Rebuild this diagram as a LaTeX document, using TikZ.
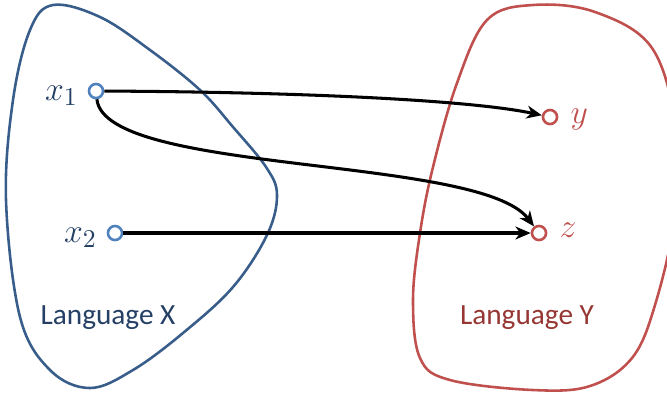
\documentclass[tikz,border=0pt]{standalone}
\usepackage{fontspec}
\setmainfont{Carlito}
\usepackage{tikz}
\usetikzlibrary{arrows.meta,positioning}

\definecolor{langblue}{RGB}{56,93,138}
\definecolor{dotblue}{RGB}{79,129,189}
\definecolor{textblue}{RGB}{37,64,100}
\definecolor{langred}{RGB}{192,80,77}
\definecolor{textred}{RGB}{150,55,52}

\tikzset{
  dot/.style={circle,draw,line width=1.1pt,minimum size=6pt,inner sep=0pt},
  lbl/.style={font=\fontsize{15}{18}\selectfont,inner sep=1pt},
  lang/.style={font=\fontsize{12.5}{15}\selectfont},
}

\begin{document}
\begin{tikzpicture}[x=0.015cm,y=-0.015cm,>={Stealth[length=6.5pt,width=5.5pt,inset=2pt]}]
\useasboundingbox (0,0) rectangle (667,393);
\clip (0,0) rectangle (667,393);
% the two languages
\draw [langblue,line width=1.1pt] plot[smooth cycle,tension=0.6] coordinates
  {(53,5) (100,17) (150,50) (200,90) (233,127) (266,167) (277,195) (267,235)
   (233,287) (183,333) (133,370) (90,388) (50,370) (20,317) (6,200) (13,100) (30,30)};
\draw [langred,line width=1.1pt] plot[smooth cycle,tension=0.6] coordinates
  {(533,5) (595,12) (652,48) (676,130) (674,220) (655,305) (632,358) (590,386)
   (533,390) (450,380) (420,358) (413,300) (420,233) (433,167) (457,83) (487,20)};
\node[lang,textblue] (langX) at (108,318) {Language X};
\node[lang,textred] (langY) at (527,318) {Language Y};
% points
\node[dot,dotblue] (x1) at (96,91) {};
\node[dot,dotblue] (x2) at (115,233) {};
\node[dot,langred] (y) at (550,117) {};
\node[dot,langred] (z) at (539,233) {};
\node[lbl,textblue,left=3pt of x1,yshift=-2pt] (x1lbl) {$x_1$};
\node[lbl,textblue,left=3pt of x2,yshift=-2pt] (x2lbl) {$x_2$};
\node[lbl,langred,right=4pt of y,yshift=-1pt] (ylbl) {$y$};
\node[lbl,langred,right=4pt of z,yshift=1pt] (zlbl) {$z$};
% maps
\draw [line width=1.3pt,->] (x1) .. controls (300,92) and (470,100) .. (y);
\draw [line width=1.3pt,->] (x1) .. controls (105,175) and (480,155) .. (z);
\draw [line width=1.3pt,->] (x2) -- (z);
\end{tikzpicture}
\end{document}
